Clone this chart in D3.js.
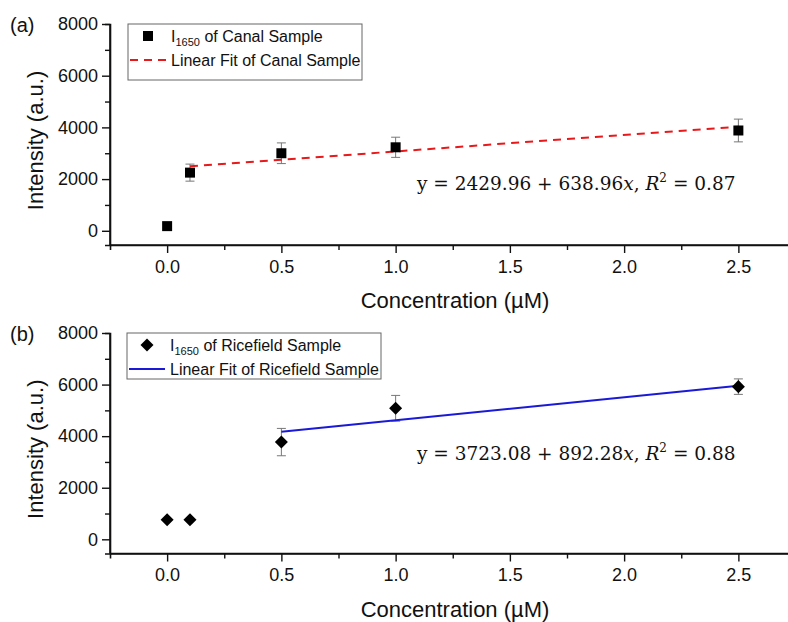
<!DOCTYPE html>
<html>
<head>
<meta charset="utf-8">
<script src="https://cdn.jsdelivr.net/npm/d3@7"></script>
<style>
  body { margin: 0; background: #fff; }
  svg { display: block; font-family: "Liberation Sans", Arial, sans-serif; }
</style>
</head>
<body>
<svg id="chart" width="788" height="622"></svg>
<script>
// concentrations (µM)
const conc = [0, 0.1, 0.5, 1.0, 2.5];

// (a) canal sample
const canalI = [180, 2250, 3000, 3230, 3880];
const canalErr = [0, 330, 400, 390, 440];
const canalFit = [2429.96, 638.96];
const canalFitRange = [0.1, 2.5];

// (b) ricefield sample
const riceI = [760, 760, 3770, 5080, 5920];
const riceErr = [0, 0, 530, 500, 300];
const riceFit = [3723.08, 892.28];
const riceFitRange = [0.5, 2.5];

const xTicks = [0, 0.5, 1.0, 1.5, 2.0, 2.5];
const yTicks = [0, 2000, 4000, 6000, 8000];

const svg = d3.select("#chart");

const x = d3.scaleLinear().domain([-0.25, 2.75]).range([110, 795.5]);

function panel(opt) {
    const y = d3.scaleLinear().domain([-550, 8000]).range([opt.bottom, opt.top]);
    const g = svg.append("g");
    const rot = opt.diamond ? " rotate(45)" : "";

    // axes
    const yAxis = g.append("g").attr("transform", "translate(110,0)");
    yAxis.call(d3.axisLeft(y).tickValues(yTicks).tickSize(8).tickPadding(4).tickFormat(d3.format("d")));
    yAxis.append("g").call(d3.axisLeft(y).tickValues(d3.range(1000, 8000, 2000)).tickSize(5).tickFormat(""));
    const xAxis = g.append("g").attr("transform", `translate(0,${opt.bottom})`);
    xAxis.call(d3.axisBottom(x).tickValues(xTicks).tickSize(8).tickPadding(7).tickFormat(d3.format(".1f")));
    xAxis.append("g").call(d3.axisBottom(x).tickValues([0.25, 0.75, 1.25, 1.75, 2.25]).tickSize(5).tickFormat(""));

    g.selectAll(".domain").attr("stroke", "#111").attr("stroke-width", 1.6);
    yAxis.select(".domain").attr("d", `M0,${opt.bottom}V${opt.top}`);
    xAxis.select(".domain").attr("d", `M110,0H788`);
    g.selectAll(".tick line").attr("stroke", "#111").attr("stroke-width", 1.4);
    g.selectAll(".tick text").attr("font-size", 18).attr("fill", "#111")
        .attr("font-family", "Liberation Sans, Arial, sans-serif");

    // titles
    g.append("text").attr("x", 455).attr("y", opt.bottom + 63).attr("text-anchor", "middle")
        .attr("font-size", 22).attr("fill", "#111").text("Concentration (µM)");
    g.append("text").attr("transform", `translate(43,${(opt.top + opt.bottom) / 2 + 6}) rotate(-90)`)
        .attr("text-anchor", "middle").attr("font-size", 22).attr("fill", "#111").text("Intensity (a.u.)");
    g.append("text").attr("x", 10).attr("y", opt.top + 8).attr("font-size", 20).attr("fill", "#111").text(opt.label);

    // error bars
    const pts = conc.map((c, i) => ({ c, v: opt.values[i], e: opt.err[i] }));
    const eb = g.append("g").attr("stroke", "#777").attr("stroke-width", 1);
    pts.filter(d => d.e > 0).forEach(d => {
        eb.append("line").attr("x1", x(d.c)).attr("x2", x(d.c)).attr("y1", y(d.v - d.e)).attr("y2", y(d.v + d.e));
        [d.v - d.e, d.v + d.e].forEach(v => eb.append("line")
            .attr("x1", x(d.c) - 4.5).attr("x2", x(d.c) + 4.5).attr("y1", y(v)).attr("y2", y(v)));
    });

    // fit line
    const fy = c => opt.fit[0] + opt.fit[1] * c;
    g.append("line")
        .attr("x1", x(opt.fitRange[0])).attr("y1", y(fy(opt.fitRange[0])))
        .attr("x2", x(opt.fitRange[1])).attr("y2", y(fy(opt.fitRange[1])))
        .attr("stroke", opt.lineColor).attr("stroke-width", 2)
        .attr("stroke-dasharray", opt.dash || null);

    // markers
    const sym = d3.symbol().type(d3.symbolSquare).size(opt.symSize);
    g.selectAll(".pt").data(pts).join("path")
        .attr("transform", d => `translate(${x(d.c)},${y(d.v)})` + rot)
        .attr("d", sym).attr("fill", "#000");

    // equation
    const eq = g.append("text").attr("x", 417).attr("y", opt.eqY)
        .attr("font-family", "DejaVu Serif, serif").attr("font-size", 18.5).attr("fill", "#111");
    eq.append("tspan").text(`y = ${opt.fit[0].toFixed(2)} + ${opt.fit[1].toFixed(2)}`);
    eq.append("tspan").attr("font-style", "italic").text("x");
    eq.append("tspan").text(", ");
    eq.append("tspan").attr("font-style", "italic").text("R");
    eq.append("tspan").attr("font-size", 12).attr("dy", -8).text("2");
    eq.append("tspan").attr("dy", 8).text(` = ${opt.r2}`);

    // legend
    const lg = g.append("g").attr("transform", `translate(${opt.legend[0]},${opt.legend[1]})`);
    lg.append("rect").attr("width", opt.legend[2]).attr("height", opt.legend[3])
        .attr("fill", "#fff").attr("stroke", "#666").attr("stroke-width", 1);
    lg.append("path").attr("transform", `translate(20,12)` + rot)
        .attr("d", sym).attr("fill", "#000");
    const t1 = lg.append("text").attr("x", 43).attr("y", 18).attr("font-size", 16).attr("fill", "#111");
    t1.append("tspan").text("I");
    t1.append("tspan").attr("font-size", 11).attr("dy", 4).text("1650");
    t1.append("tspan").attr("dy", -4).text(` of ${opt.name} Sample`);
    lg.append("line").attr("x1", 2).attr("x2", 38).attr("y1", 36).attr("y2", 36)
        .attr("stroke", opt.lineColor).attr("stroke-width", 2).attr("stroke-dasharray", opt.dash || null);
    lg.append("text").attr("x", 43).attr("y", 42).attr("font-size", 16).attr("fill", "#111")
        .text(`Linear Fit of ${opt.name} Sample`);
}

panel({
    label: "(a)", top: 24, bottom: 245, values: canalI, err: canalErr,
    fit: canalFit, fitRange: canalFitRange, lineColor: "#e8191b", dash: "8,6",
    diamond: false, symSize: 100, eqY: 190, r2: "0.87", name: "Canal",
    legend: [128, 24, 234, 56]
});
panel({
    label: "(b)", top: 333, bottom: 553.5, values: riceI, err: riceErr,
    fit: riceFit, fitRange: riceFitRange, lineColor: "#1a1ad6", dash: null,
    diamond: true, symSize: 85, eqY: 460, r2: "0.88", name: "Ricefield",
    legend: [127, 333, 254, 46]
});
</script>
</body>
</html>
